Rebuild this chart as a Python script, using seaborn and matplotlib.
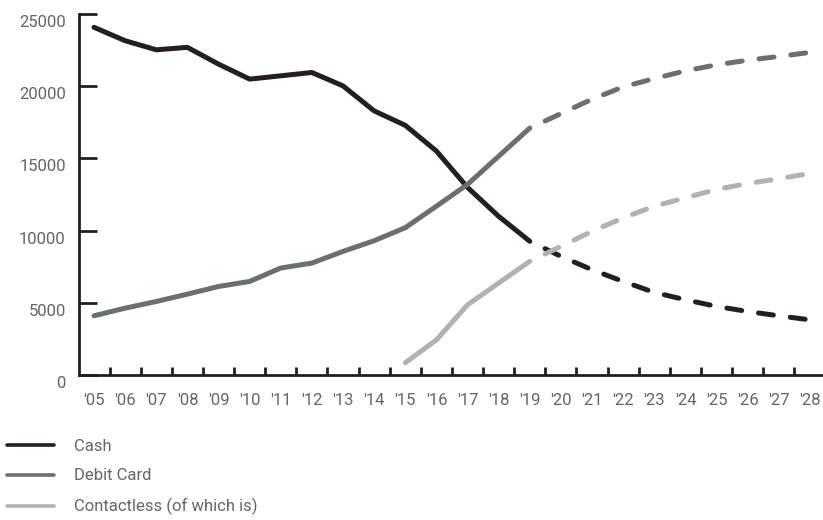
import matplotlib
matplotlib.use("Agg")
import matplotlib.pyplot as plt
import matplotlib.transforms as mtransforms
from matplotlib.lines import Line2D
import seaborn as sns

# Year labels and series values (transactions, millions)
years = ["'05", "'06", "'07", "'08", "'09", "'10", "'11", "'12", "'13", "'14",
         "'15", "'16", "'17", "'18", "'19", "'20", "'21", "'22", "'23", "'24",
         "'25", "'26", "'27", "'28"]

# Actual values '05-'19
cash_actual = [24080, 23150, 22520, 22690, 21530, 20490, 20720, 20950, 20020,
               18290, 17290, 15510, 12990, 10990, 9260]
debit_actual = [4100, 4630, 5090, 5600, 6130, 6480, 7410, 7750, 8560, 9300,
                10200, 11690, 13200, 15150, 17100]
# Contactless actual '15-'19
contactless_actual = [850, 2430, 4860, 6370, 7870]

# Forecast values '19-'28 (starting from the last actual year)
cash_forecast = [9260, 8220, 7290, 6480, 5720, 5210, 4750, 4400, 4100, 3820]
debit_forecast = [17100, 18100, 19100, 19950, 20530, 21060, 21480, 21800, 22060, 22340]
contactless_forecast = [7870, 8910, 9950, 10880, 11690, 12270, 12850, 13260, 13590, 13960]

series_names = ["Cash", "Debit Card", "Contactless (of which is)"]
colors = ["#231f20", "#6b6f6f", "#b4b1b2"]

INK = "#231f20"
TEXT = "#646567"

sns.set_style("white", {"xtick.bottom": True, "ytick.left": True})
plt.rcParams["font.family"] = ["Roboto", "DejaVu Sans"]

fig = plt.figure(figsize=(8.23, 5.2), dpi=100)
ax = fig.add_axes([79 / 823, 145 / 520, (823 - 79) / 823, (375 - 14) / 520])

idx_all = list(range(len(years)))
idx_actual = idx_all[:15]
idx_contact = idx_all[10:15]
idx_forecast = idx_all[14:]

lw = 3.6
actual_sets = [(idx_actual, cash_actual), (idx_actual, debit_actual), (idx_contact, contactless_actual)]
forecast_sets = [cash_forecast, debit_forecast, contactless_forecast]

for (xs, ys), fc, col in zip(actual_sets, forecast_sets, colors):
    sns.lineplot(x=xs, y=ys, ax=ax, color=col, linewidth=lw,
                 solid_capstyle="round", solid_joinstyle="round")
    sns.lineplot(x=idx_forecast, y=fc, ax=ax, color=col, linewidth=lw,
                 linestyle=(3.0, (3.0, 3.4)), dash_capstyle="round",
                 dash_joinstyle="round")

ax.set_xlim(-0.482, 23.42)
ax.set_ylim(0, 25000)

for side in ["top", "right"]:
    ax.spines[side].set_visible(False)
for side in ["left", "bottom"]:
    sp = ax.spines[side]
    sp.set_visible(True)
    sp.set_edgecolor(INK)
    sp.set_linewidth(2.0)
    sp.set_zorder(5)

ax.set_yticks([0, 5000, 10000, 15000, 20000, 25000])
ax.set_yticklabels(["0", "5000", "10000", "15000", "20000", "25000"])
ax.tick_params(axis="y", left=True, direction="in", length=13, width=2.0,
               color=INK, labelsize=12, labelcolor=TEXT, pad=9.5)
shift = mtransforms.ScaledTranslation(0, -7 / 100, fig.dpi_scale_trans)
for lab in ax.get_yticklabels():
    lab.set_transform(lab.get_transform() + shift)

ax.set_xticks(idx_all)
ax.set_xticklabels(years)
ax.set_xticks([i + 0.5 for i in range(len(years) - 1)], minor=True)
ax.tick_params(axis="x", which="major", bottom=True, length=0, labelsize=12,
               labelcolor=TEXT, pad=13)
ax.tick_params(axis="x", which="minor", bottom=True, direction="in",
               length=6, width=2.0, color=INK)
ax.set_xlabel("")
ax.set_ylabel("")
ax.grid(False)

handles = [Line2D([0], [0], color=c, linewidth=2.6) for c in colors]
leg = fig.legend(handles, series_names, loc="upper left",
                 bbox_to_anchor=(7 / 823, 81 / 520), frameon=False,
                 fontsize=12, labelcolor=TEXT, handlelength=2.8,
                 handletextpad=1.25, labelspacing=0.87, borderpad=0,
                 borderaxespad=0)

fig.savefig("out.png", dpi=100)
